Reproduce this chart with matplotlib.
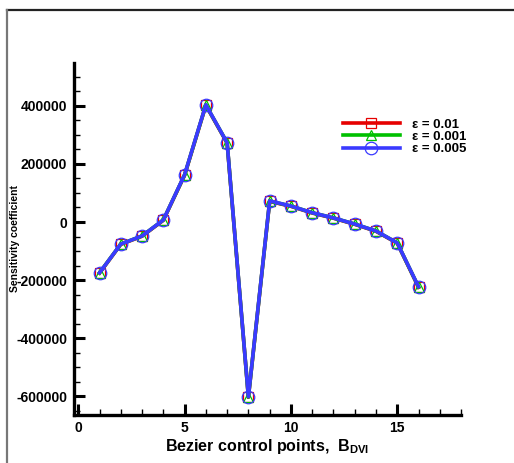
import numpy as np
import matplotlib.pyplot as plt
from matplotlib.lines import Line2D
from matplotlib.ticker import MultipleLocator

plt.rcParams['font.family'] = ['Liberation Sans', 'DejaVu Sans']
plt.rcParams['font.weight'] = 'bold'
plt.rcParams['axes.unicode_minus'] = False
plt.rcParams['mathtext.fontset'] = 'custom'
plt.rcParams['mathtext.bf'] = 'Liberation Sans:bold'
plt.rcParams['mathtext.rm'] = 'Liberation Sans:bold'

# control point index and sensitivity for each perturbation size
control_points = np.arange(1, 17)
sens_eps_001 = [-176000, -77000, -49000, 6000, 161000, 402000, 272000, -604000,
                71000, 54000, 31000, 13000, -8000, -32000, -73000, -225000]
sens_eps_0001 = [-175000, -76000, -48000, 7000, 162000, 403000, 273000, -603000,
                 72000, 55000, 32000, 14000, -7000, -31000, -72000, -224000]
sens_eps_0005 = [-175000, -76000, -48000, 7000, 163000, 404000, 273000, -602000,
                 73000, 55000, 32000, 14000, -7000, -31000, -72000, -223000]
series_labels = ['\u03b5 = 0.01', '\u03b5 = 0.001', '\u03b5 = 0.005']

fig = plt.figure(figsize=(5.14, 4.63), dpi=100)
ax = fig.add_axes([0.144, 0.1037, 0.753, 0.7603])

styles = [('#e60000', 's', 7.5), ('#00c000', '^', 7.5), ('#3a3aff', 'o', 9)]
for vals, (col, mk, ms) in zip([sens_eps_001, sens_eps_0001, sens_eps_0005], styles):
    ax.plot(control_points, vals, color=col, lw=2.6, marker=mk, ms=ms,
            mfc='none', mec=col, mew=0.9)

ax.set_xlim(-0.2, 18)
ax.set_ylim(-665000, 548000)
ax.xaxis.set_minor_locator(MultipleLocator(1))
ax.yaxis.set_major_locator(MultipleLocator(200000))
ax.yaxis.set_minor_locator(MultipleLocator(50000))
ax.set_xticks([0, 5, 10, 15])
ax.set_xticklabels(['0', '5', '10', '15'])

for side in ['top', 'right']:
    ax.spines[side].set_visible(False)
for side in ['left', 'bottom']:
    ax.spines[side].set_linewidth(2.4)

ax.tick_params(which='major', direction='in', length=8, width=2.2,
               labelsize=10, pad=4)
ax.tick_params(which='minor', direction='in', length=4, width=1)
ax.tick_params(axis='y', which='major', pad=5)
for t in ax.get_xticklabels() + ax.get_yticklabels():
    t.set_fontweight('bold')

ax.set_ylabel('Sensitivity coefficient', fontsize=7.5, fontweight='bold')
ax.yaxis.set_label_coords(-0.14, 0.5)
ax.set_xlabel(r'Bezier control points,  B$_{\mathbf{DVI}}$', fontsize=11.5,
              fontweight='bold', labelpad=2)

handles = [Line2D([], [], color=c, lw=2.6, marker=m, ms=s, mfc='none', mec=c, mew=0.9)
           for c, m, s in styles]
leg = ax.legend(handles, series_labels, loc='upper left', bbox_to_anchor=(0.695, 0.842),
                frameon=False, fontsize=9.5, handlelength=4.3, handletextpad=0.95,
                labelspacing=0.0, borderaxespad=0, borderpad=0)
for t in leg.get_texts():
    t.set_fontweight('bold')

# page border
fig.add_artist(Line2D([0.013, 1.0], [0.979, 0.979], color='#222222', lw=1.6))
fig.add_artist(Line2D([0.014, 0.014], [0.0, 0.979], color='#777777', lw=1.6))

fig.savefig('out.png', dpi=100)
